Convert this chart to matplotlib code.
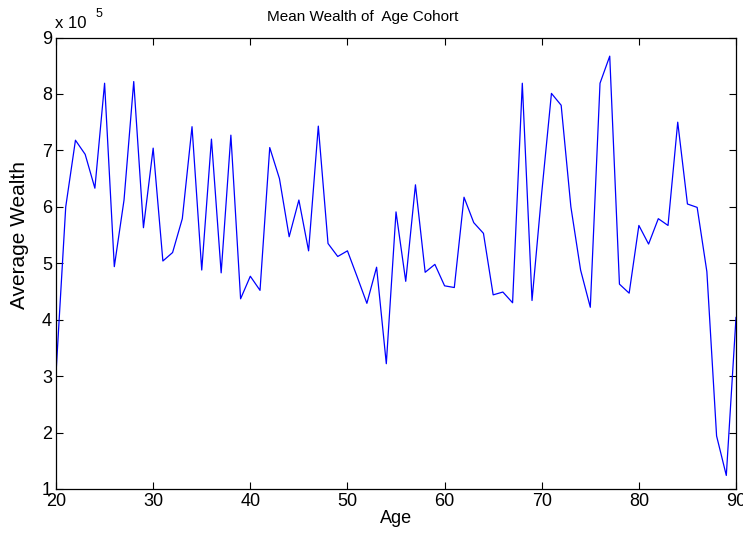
import numpy as np
import matplotlib
matplotlib.use("Agg")
import matplotlib.pyplot as plt

plt.rcParams['font.family'] = ['Liberation Sans', 'DejaVu Sans']

# mean wealth per age cohort, ages 20..90 (in units of 1e5)
ages = np.arange(20, 91)
wealth = [3.05, 6.00, 7.18, 6.93, 6.33, 8.19, 4.94, 6.12, 8.22, 5.63,
          7.04, 5.04, 5.19, 5.79, 7.42, 4.88, 7.20, 4.83, 7.27, 4.37,
          4.77, 4.52, 7.05, 6.50, 5.47, 6.12, 5.22, 7.43, 5.35, 5.12,
          5.22, 4.76, 4.29, 4.93, 3.22, 5.91, 4.68, 6.39, 4.84, 4.98,
          4.60, 4.57, 6.17, 5.72, 5.53, 4.44, 4.49, 4.30, 8.19, 4.34,
          6.25, 8.01, 7.80, 6.00, 4.88, 4.22, 8.19, 8.67, 4.63, 4.47,
          5.67, 5.34, 5.79, 5.67, 7.50, 6.05, 5.99, 4.85, 1.94, 1.24,
          4.04]
wealth = np.array(wealth) * 1e5

fig = plt.figure(figsize=(7.43, 5.36), dpi=100)
ax = fig.add_axes([0.0754, 0.0877, 0.9152, 0.8423])
ax.plot(ages, wealth / 1e5, color='blue', linewidth=0.9)

ax.set_xlim(20, 90)
ax.set_ylim(1, 9)
ax.set_xticks(np.arange(20, 91, 10))
ax.set_yticks(np.arange(1, 10, 1))
ax.tick_params(direction='in', top=True, right=True, labelsize=13, length=5, width=0.8, pad=3)
for s in ax.spines.values():
    s.set_linewidth(0.9)

ax.set_xlabel("Age", fontsize=13, labelpad=0)
ax.set_ylabel("Average Wealth", fontsize=15)
ax.yaxis.set_label_coords(-0.040, 0.563)

# title and exponent are placed by hand, like the original figure
fig.text(0.4886, 0.968, "Mean Wealth of  Age Cohort", fontsize=11,
         ha='center', va='center')
fig.text(0.074, 0.957, "x 10", fontsize=12, ha='left', va='center')
fig.text(0.128, 0.974, "5", fontsize=9, ha='left', va='center')

fig.savefig("out.png", dpi=100)
